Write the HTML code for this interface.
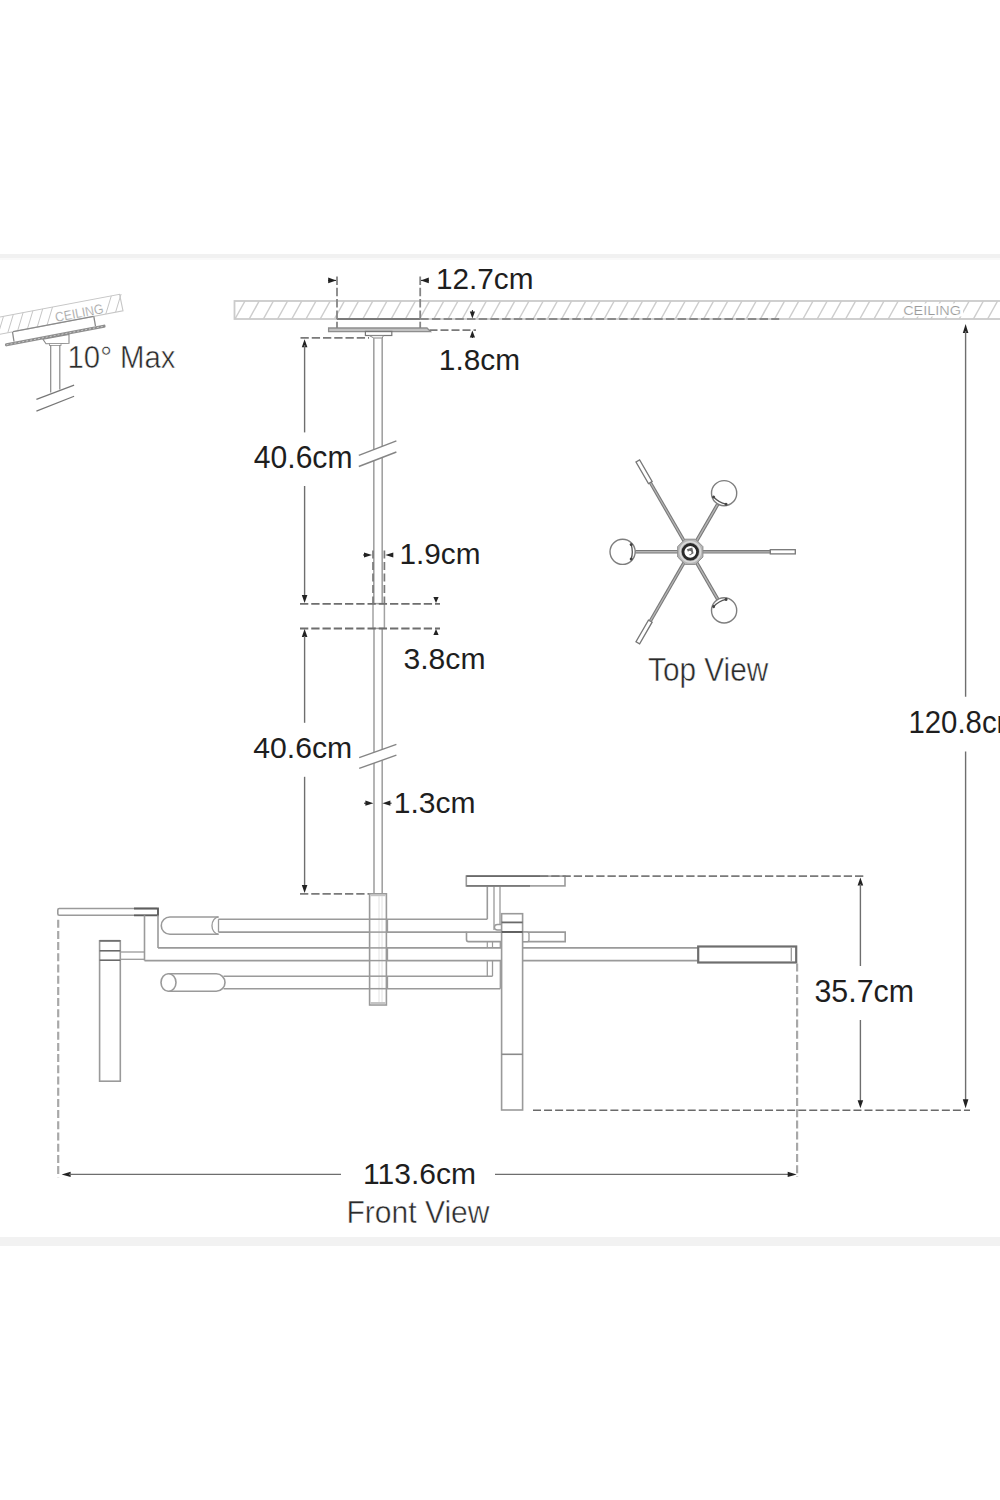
<!DOCTYPE html><html><head><meta charset="utf-8"><style>html,body{margin:0;padding:0;background:#fff;}svg{display:block;}text{font-family:"Liberation Sans",sans-serif;}</style></head><body>
<svg width="1000" height="1500" viewBox="0 0 1000 1500">
<rect x="0" y="0" width="1000" height="1500" fill="#fff"/>
<rect x="0" y="254" width="1000" height="4" fill="#f1f1f1"/><rect x="0" y="258" width="1000" height="2" fill="#f9f9f9"/>
<rect x="0" y="1237" width="1000" height="9" fill="#f2f2f2"/>
<g stroke="#cdcdcd" stroke-width="1.5">
<line x1="235.0" y1="319" x2="245.0" y2="301"/>
<line x1="249.2" y1="319" x2="259.2" y2="301"/>
<line x1="263.4" y1="319" x2="273.4" y2="301"/>
<line x1="277.6" y1="319" x2="287.6" y2="301"/>
<line x1="291.8" y1="319" x2="301.8" y2="301"/>
<line x1="306.0" y1="319" x2="316.0" y2="301"/>
<line x1="320.2" y1="319" x2="330.2" y2="301"/>
<line x1="334.4" y1="319" x2="344.4" y2="301"/>
<line x1="348.6" y1="319" x2="358.6" y2="301"/>
<line x1="362.8" y1="319" x2="372.8" y2="301"/>
<line x1="377.0" y1="319" x2="387.0" y2="301"/>
<line x1="391.2" y1="319" x2="401.2" y2="301"/>
<line x1="405.4" y1="319" x2="415.4" y2="301"/>
<line x1="419.6" y1="319" x2="429.6" y2="301"/>
<line x1="433.8" y1="319" x2="443.8" y2="301"/>
<line x1="448.0" y1="319" x2="458.0" y2="301"/>
<line x1="462.2" y1="319" x2="472.2" y2="301"/>
<line x1="476.4" y1="319" x2="486.4" y2="301"/>
<line x1="490.6" y1="319" x2="500.6" y2="301"/>
<line x1="504.8" y1="319" x2="514.8" y2="301"/>
<line x1="519.0" y1="319" x2="529.0" y2="301"/>
<line x1="533.2" y1="319" x2="543.2" y2="301"/>
<line x1="547.4" y1="319" x2="557.4" y2="301"/>
<line x1="561.6" y1="319" x2="571.6" y2="301"/>
<line x1="575.8" y1="319" x2="585.8" y2="301"/>
<line x1="590.0" y1="319" x2="600.0" y2="301"/>
<line x1="604.2" y1="319" x2="614.2" y2="301"/>
<line x1="618.4" y1="319" x2="628.4" y2="301"/>
<line x1="632.6" y1="319" x2="642.6" y2="301"/>
<line x1="646.8" y1="319" x2="656.8" y2="301"/>
<line x1="661.0" y1="319" x2="671.0" y2="301"/>
<line x1="675.2" y1="319" x2="685.2" y2="301"/>
<line x1="689.4" y1="319" x2="699.4" y2="301"/>
<line x1="703.6" y1="319" x2="713.6" y2="301"/>
<line x1="717.8" y1="319" x2="727.8" y2="301"/>
<line x1="732.0" y1="319" x2="742.0" y2="301"/>
<line x1="746.2" y1="319" x2="756.2" y2="301"/>
<line x1="760.4" y1="319" x2="770.4" y2="301"/>
<line x1="774.6" y1="319" x2="784.6" y2="301"/>
<line x1="788.8" y1="319" x2="798.8" y2="301"/>
<line x1="803.0" y1="319" x2="813.0" y2="301"/>
<line x1="817.2" y1="319" x2="827.2" y2="301"/>
<line x1="831.4" y1="319" x2="841.4" y2="301"/>
<line x1="845.6" y1="319" x2="855.6" y2="301"/>
<line x1="859.8" y1="319" x2="869.8" y2="301"/>
<line x1="874.0" y1="319" x2="884.0" y2="301"/>
<line x1="888.2" y1="319" x2="898.2" y2="301"/>
<line x1="902.4" y1="319" x2="912.4" y2="301"/>
<line x1="916.6" y1="319" x2="926.6" y2="301"/>
<line x1="930.8" y1="319" x2="940.8" y2="301"/>
<line x1="945.0" y1="319" x2="955.0" y2="301"/>
<line x1="959.2" y1="319" x2="969.2" y2="301"/>
<line x1="973.4" y1="319" x2="983.4" y2="301"/>
<line x1="987.6" y1="319" x2="997.6" y2="301"/>
<line x1="1001.8" y1="319" x2="1011.8" y2="301"/>
</g>
<rect x="234.5" y="301" width="800" height="18" fill="none" stroke="#cbcbcb" stroke-width="1.8"/>
<rect x="901" y="303.5" width="62" height="13" fill="#fff"/>
<text x="903.2" y="314.6" font-size="13.5" fill="#9a9a9a" textLength="57.8" lengthAdjust="spacingAndGlyphs" stroke="#fff" stroke-width="0.2">CEILING</text>
<line x1="336.8" y1="319" x2="420.2" y2="319" stroke="#7a7a7a" stroke-width="1.8" />
<line x1="420.2" y1="319" x2="779.2" y2="319" stroke="#8a8a8a" stroke-width="1.8" stroke-dasharray="8.5 3.2"/>
<polygon points="328.6,328 427,328 430.5,331.6 328.6,331.6" fill="#c2c2c2" stroke="#8e8e8e" stroke-width="1.3"/>
<rect x="365.4" y="331.4" width="26.40" height="4.10" stroke="#777" stroke-width="1.2" fill="none" />
<polygon points="369.2,335.5 383.5,335.5 382.2,338 373.8,338" fill="none" stroke="#888" stroke-width="1"/>
<line x1="337" y1="276.5" x2="337" y2="328" stroke="#858585" stroke-width="1.8" stroke-dasharray="8.5 2.8"/>
<line x1="420.2" y1="276.5" x2="420.2" y2="328" stroke="#858585" stroke-width="1.8" stroke-dasharray="8.5 2.8"/>
<polygon points="336.2,280.4 328.2,277.6 328.2,283.2" fill="#222"/>
<polygon points="420.8,280.4 428.8,277.6 428.8,283.2" fill="#222"/>
<line x1="328" y1="280.4" x2="336" y2="280.4" stroke="#222" stroke-width="1" />
<line x1="421" y1="280.4" x2="429" y2="280.4" stroke="#222" stroke-width="1" />
<text x="436" y="289.3" font-size="29" fill="#1e1e1e" textLength="97.5" lengthAdjust="spacingAndGlyphs" >12.7cm</text>
<line x1="429.5" y1="330.2" x2="476" y2="330.2" stroke="#7a7a7a" stroke-width="1.8" stroke-dasharray="8 3"/>
<polygon points="472.4,318.5 469.8,311.5 475.0,311.5" fill="#222"/>
<line x1="472.4" y1="310" x2="472.4" y2="312" stroke="#222" stroke-width="1" />
<polygon points="472.4,330.6 469.8,337.6 475.0,337.6" fill="#222"/>
<line x1="472.4" y1="337" x2="472.4" y2="338" stroke="#222" stroke-width="1" />
<text x="438.8" y="369.9" font-size="29.5" fill="#1e1e1e" textLength="81.2" lengthAdjust="spacingAndGlyphs" >1.8cm</text>
<line x1="373.8" y1="338" x2="373.8" y2="449.6" stroke="#a2a2a2" stroke-width="1.6" />
<line x1="373.8" y1="460.7" x2="373.8" y2="603.6" stroke="#a2a2a2" stroke-width="1.6" />
<line x1="382.2" y1="338" x2="382.2" y2="446.3" stroke="#a2a2a2" stroke-width="1.6" />
<line x1="382.2" y1="457.5" x2="382.2" y2="603.6" stroke="#a2a2a2" stroke-width="1.6" />
<line x1="358.8" y1="455.3" x2="396.4" y2="440.9" stroke="#858585" stroke-width="1.4" />
<line x1="358.8" y1="466.5" x2="396.4" y2="452" stroke="#858585" stroke-width="1.4" />
<rect x="373" y="603.6" width="11.40" height="24.80" stroke="#a2a2a2" stroke-width="1.5" fill="none" />
<line x1="374" y1="628.4" x2="374" y2="752.3" stroke="#a2a2a2" stroke-width="1.6" />
<line x1="374" y1="763.1" x2="374" y2="893.8" stroke="#a2a2a2" stroke-width="1.6" />
<line x1="382.2" y1="628.4" x2="382.2" y2="749.4" stroke="#a2a2a2" stroke-width="1.6" />
<line x1="382.2" y1="760.2" x2="382.2" y2="893.8" stroke="#a2a2a2" stroke-width="1.6" />
<line x1="359.2" y1="757.6" x2="396.4" y2="744.4" stroke="#858585" stroke-width="1.4" />
<line x1="359.2" y1="768.4" x2="396.4" y2="755.2" stroke="#858585" stroke-width="1.4" />
<line x1="300.5" y1="337.8" x2="369" y2="337.8" stroke="#7a7a7a" stroke-width="1.8" stroke-dasharray="8.3 2.95"/>
<polygon points="304.6,339.3 301.8,347.3 307.4,347.3" fill="#222"/>
<line x1="304.6" y1="345" x2="304.6" y2="432.4" stroke="#6e6e6e" stroke-width="1.4" />
<line x1="304.6" y1="486" x2="304.6" y2="597" stroke="#6e6e6e" stroke-width="1.4" />
<polygon points="304.6,603.0 301.8,595.0 307.4,595.0" fill="#222"/>
<text x="253.8" y="468.4" font-size="30.5" fill="#1e1e1e" textLength="98.7" lengthAdjust="spacingAndGlyphs" >40.6cm</text>
<line x1="300" y1="603.8" x2="440" y2="603.8" stroke="#6e6e6e" stroke-width="1.8" stroke-dasharray="8.3 2.95"/>
<line x1="300" y1="628.5" x2="440" y2="628.5" stroke="#6e6e6e" stroke-width="1.8" stroke-dasharray="8.3 2.95"/>
<polygon points="304.6,629.0 301.8,637.0 307.4,637.0" fill="#222"/>
<line x1="304.6" y1="636" x2="304.6" y2="722.8" stroke="#6e6e6e" stroke-width="1.4" />
<line x1="304.6" y1="776.8" x2="304.6" y2="887" stroke="#6e6e6e" stroke-width="1.4" />
<polygon points="304.6,893.0 301.8,885.0 307.4,885.0" fill="#222"/>
<text x="253.2" y="758" font-size="29.5" fill="#1e1e1e" textLength="99.0" lengthAdjust="spacingAndGlyphs" >40.6cm</text>
<line x1="300" y1="893.8" x2="370" y2="893.8" stroke="#7a7a7a" stroke-width="1.8" stroke-dasharray="8.3 2.95"/>
<polygon points="436.0,603.0 433.4,597.0 438.6,597.0" fill="#222"/>
<polygon points="436.0,629.0 433.4,635.0 438.6,635.0" fill="#222"/>
<text x="403.5" y="669.3" font-size="29" fill="#1e1e1e" textLength="82.0" lengthAdjust="spacingAndGlyphs" >3.8cm</text>
<line x1="373" y1="550.5" x2="373" y2="603.8" stroke="#7a7a7a" stroke-width="1.7" stroke-dasharray="8 3.5"/>
<line x1="384.4" y1="550.5" x2="384.4" y2="603.8" stroke="#7a7a7a" stroke-width="1.7" stroke-dasharray="8 3.5"/>
<polygon points="372.0,555.0 364.0,552.4 364.0,557.6" fill="#222"/>
<line x1="363" y1="555" x2="365" y2="555" stroke="#222" stroke-width="1" />
<polygon points="385.3,555.0 393.3,552.4 393.3,557.6" fill="#222"/>
<line x1="391" y1="555" x2="393" y2="555" stroke="#222" stroke-width="1" />
<text x="399.5" y="564" font-size="29" fill="#1e1e1e" textLength="81.0" lengthAdjust="spacingAndGlyphs" >1.9cm</text>
<polygon points="373.4,803.2 365.4,800.6 365.4,805.8" fill="#222"/>
<line x1="364" y1="803.2" x2="366" y2="803.2" stroke="#222" stroke-width="1" />
<polygon points="382.4,803.2 390.4,800.6 390.4,805.8" fill="#222"/>
<line x1="390" y1="803.2" x2="391.6" y2="803.2" stroke="#222" stroke-width="1" />
<text x="393.8" y="812.8" font-size="29.5" fill="#1e1e1e" textLength="81.8" lengthAdjust="spacingAndGlyphs" >1.3cm</text>
<rect x="369.6" y="893.8" width="16.80" height="111.20" stroke="#9a9a9a" stroke-width="1.6" fill="#fff" />
<rect x="370.4" y="894.6" width="15.2" height="1.6" fill="#c4c4c4"/>
<rect x="370.4" y="1002" width="15.2" height="2.2" fill="#c4c4c4"/>
<line x1="379" y1="896" x2="379" y2="1002" stroke="#e2e2e2" stroke-width="1" />
<line x1="382" y1="896" x2="382" y2="1002" stroke="#e2e2e2" stroke-width="1" />
<line x1="387.5" y1="919.2" x2="387.5" y2="932.1" stroke="#9a9a9a" stroke-width="1.3" />
<line x1="369.6" y1="919.2" x2="386.4" y2="919.2" stroke="#9a9a9a" stroke-width="1.5" />
<line x1="369.6" y1="932.1" x2="386.4" y2="932.1" stroke="#9a9a9a" stroke-width="1.5" />
<line x1="387.5" y1="947.9" x2="387.5" y2="960.6" stroke="#9a9a9a" stroke-width="1.3" />
<line x1="369.6" y1="947.9" x2="386.4" y2="947.9" stroke="#9a9a9a" stroke-width="1.5" />
<line x1="369.6" y1="960.6" x2="386.4" y2="960.6" stroke="#9a9a9a" stroke-width="1.5" />
<line x1="387.5" y1="976.2" x2="387.5" y2="988.7" stroke="#9a9a9a" stroke-width="1.3" />
<line x1="369.6" y1="976.2" x2="386.4" y2="976.2" stroke="#9a9a9a" stroke-width="1.5" />
<line x1="369.6" y1="988.7" x2="386.4" y2="988.7" stroke="#9a9a9a" stroke-width="1.5" />
<rect x="57.8" y="908.5" width="100.20" height="6.80" stroke="#9a9a9a" stroke-width="1.6" fill="#fff" rx="1.5"/>
<path d="M134,908.5 H158 V915.3 H134" fill="none" stroke="#5e5e5e" stroke-width="1.8"/>
<line x1="144.5" y1="915.3" x2="144.5" y2="960.6" stroke="#9a9a9a" stroke-width="1.6" />
<line x1="158" y1="915.3" x2="158" y2="947.9" stroke="#9a9a9a" stroke-width="1.6" />
<line x1="158" y1="947.9" x2="369.6" y2="947.9" stroke="#9a9a9a" stroke-width="1.6" />
<line x1="144.5" y1="960.6" x2="369.6" y2="960.6" stroke="#9a9a9a" stroke-width="1.6" />
<rect x="99.6" y="940.8" width="20.70" height="140.40" stroke="#9a9a9a" stroke-width="1.6" fill="#fff" />
<line x1="99.6" y1="940.8" x2="120.3" y2="940.8" stroke="#707070" stroke-width="1.8" />
<line x1="99.6" y1="950.8" x2="120.3" y2="950.8" stroke="#6a6a6a" stroke-width="1.6" />
<line x1="99.6" y1="960.2" x2="120.3" y2="960.2" stroke="#6a6a6a" stroke-width="1.6" />
<line x1="120.3" y1="952" x2="144.5" y2="952" stroke="#9a9a9a" stroke-width="1.3" />
<line x1="120.3" y1="959.3" x2="144.5" y2="959.3" stroke="#9a9a9a" stroke-width="1.3" />
<path d="M169.9,917 H218.5 M218.5,934.25 H169.9 A8.6,8.6 0 0 1 169.9,917" fill="#fff" stroke="#9a9a9a" stroke-width="1.6"/>
<path d="M218.5,917 A6.5,8.6 0 0 0 218.5,934.25" fill="none" stroke="#9a9a9a" stroke-width="1.3"/>
<line x1="218.5" y1="919.2" x2="218.5" y2="932.1" stroke="#9a9a9a" stroke-width="1.3" />
<line x1="218.5" y1="919.2" x2="369.6" y2="919.2" stroke="#9a9a9a" stroke-width="1.6" />
<line x1="218.5" y1="932.1" x2="369.6" y2="932.1" stroke="#9a9a9a" stroke-width="1.6" />
<path d="M168.5,973.75 H216.25 A8.75,8.75 0 0 1 216.25,991.25 H168.5 Z" fill="#fff" stroke="#9a9a9a" stroke-width="1.6"/>
<ellipse cx="168.5" cy="982.5" rx="7.5" ry="8.75" fill="#fff" stroke="#9a9a9a" stroke-width="1.6"/>
<line x1="223.5" y1="976.2" x2="369.6" y2="976.2" stroke="#9a9a9a" stroke-width="1.6" />
<line x1="223.5" y1="988.7" x2="369.6" y2="988.7" stroke="#9a9a9a" stroke-width="1.6" />
<line x1="386.4" y1="919.2" x2="487.3" y2="919.2" stroke="#9a9a9a" stroke-width="1.6" />
<line x1="487.3" y1="886" x2="487.3" y2="919.2" stroke="#9a9a9a" stroke-width="1.6" />
<line x1="386.4" y1="932.1" x2="466.5" y2="932.1" stroke="#9a9a9a" stroke-width="1.6" />
<line x1="386.4" y1="947.9" x2="501.6" y2="947.9" stroke="#9a9a9a" stroke-width="1.6" />
<line x1="386.4" y1="960.6" x2="501.6" y2="960.6" stroke="#9a9a9a" stroke-width="1.6" />
<line x1="522.6" y1="947.9" x2="698.2" y2="947.9" stroke="#9a9a9a" stroke-width="1.6" />
<line x1="522.6" y1="960.6" x2="698.2" y2="960.6" stroke="#9a9a9a" stroke-width="1.6" />
<line x1="386.4" y1="976.2" x2="492.5" y2="976.2" stroke="#9a9a9a" stroke-width="1.6" />
<line x1="386.4" y1="988.7" x2="500.3" y2="988.7" stroke="#9a9a9a" stroke-width="1.6" />
<line x1="487.3" y1="960.6" x2="487.3" y2="976.2" stroke="#9a9a9a" stroke-width="1.3" />
<line x1="492.5" y1="960.6" x2="492.5" y2="976.2" stroke="#9a9a9a" stroke-width="1.3" />
<line x1="500.3" y1="960.6" x2="500.3" y2="988.7" stroke="#9a9a9a" stroke-width="1.3" />
<line x1="500.3" y1="941.8" x2="500.3" y2="947.9" stroke="#9a9a9a" stroke-width="1.3" />
<line x1="494" y1="886" x2="494" y2="930" stroke="#9a9a9a" stroke-width="1.3" />
<line x1="500" y1="886" x2="500" y2="924.5" stroke="#9a9a9a" stroke-width="1.3" />
<path d="M501.6,924.5 H497.5 Q494.5,924.5 494.5,927.2 Q494.5,930 497.5,930 H501.6" fill="#fff" stroke="#9a9a9a" stroke-width="1.3"/>
<line x1="487.3" y1="941.8" x2="487.3" y2="947.9" stroke="#9a9a9a" stroke-width="1.2" />
<line x1="492.5" y1="941.8" x2="492.5" y2="947.9" stroke="#9a9a9a" stroke-width="1.2" />
<rect x="466.3" y="876.1" width="98.70" height="9.80" stroke="#9a9a9a" stroke-width="1.6" fill="#fff" />
<line x1="466.3" y1="876.1" x2="540" y2="876.1" stroke="#6a6a6a" stroke-width="1.8" />
<line x1="466.3" y1="885.9" x2="530" y2="885.9" stroke="#7a7a7a" stroke-width="1.6" />
<path d="M468.5,932.1 H565.2 V941.6 H468.5 Q466.5,941.6 466.5,939.5 V932.1 Z" fill="#fff" stroke="#9a9a9a" stroke-width="1.6"/>
<path d="M522.6,932.1 H527 Q529,932.1 529,934 V939.7 Q529,941.6 527,941.6 H522.6" fill="#fff" stroke="#9a9a9a" stroke-width="1.3"/>
<rect x="501.6" y="913.7" width="21.00" height="196.30" stroke="#9a9a9a" stroke-width="1.6" fill="#fff" />
<line x1="501.6" y1="922.4" x2="522.6" y2="922.4" stroke="#6a6a6a" stroke-width="1.8" />
<line x1="501.6" y1="932" x2="522.6" y2="932" stroke="#5a5a5a" stroke-width="1.9" />
<line x1="501.6" y1="1054.3" x2="522.6" y2="1054.3" stroke="#8a8a8a" stroke-width="1.6" />
<rect x="698.2" y="946.5" width="98.00" height="16.00" stroke="#6e6e6e" stroke-width="2.2" fill="#fff" />
<line x1="791.3" y1="947.5" x2="791.3" y2="961.5" stroke="#9a9a9a" stroke-width="1.3" />
<line x1="540" y1="876.1" x2="865" y2="876.1" stroke="#7a7a7a" stroke-width="1.8" stroke-dasharray="8.3 2.95"/>
<polygon points="860.4,877.6 857.6,885.6 863.2,885.6" fill="#222"/>
<line x1="860.4" y1="884" x2="860.4" y2="966" stroke="#6e6e6e" stroke-width="1.4" />
<line x1="860.4" y1="1020" x2="860.4" y2="1102" stroke="#6e6e6e" stroke-width="1.4" />
<polygon points="860.4,1108.2 857.6,1100.2 863.2,1100.2" fill="#222"/>
<text x="814.5" y="1002" font-size="31" fill="#1e1e1e" textLength="99.5" lengthAdjust="spacingAndGlyphs" >35.7cm</text>
<line x1="533" y1="1110.2" x2="970" y2="1110.2" stroke="#6a6a6a" stroke-width="1.6" stroke-dasharray="8 3.05"/>
<polygon points="965.6,324.0 962.8,333.0 968.4,333.0" fill="#222"/>
<line x1="965.6" y1="331" x2="965.6" y2="696.8" stroke="#6e6e6e" stroke-width="1.4" />
<line x1="965.6" y1="751.4" x2="965.6" y2="1102" stroke="#6e6e6e" stroke-width="1.4" />
<polygon points="965.6,1108.2 962.8,1099.2 968.4,1099.2" fill="#222"/>
<text x="908.5" y="732.8" font-size="31" fill="#1e1e1e" textLength="112.5" lengthAdjust="spacingAndGlyphs" >120.8cm</text>
<line x1="58.2" y1="919.7" x2="58.2" y2="1177.6" stroke="#a8a8a8" stroke-width="2.2" stroke-dasharray="8 3.2"/>
<line x1="797.1" y1="963.6" x2="797.1" y2="1177" stroke="#a8a8a8" stroke-width="2.2" stroke-dasharray="8 3.2"/>
<polygon points="61.6,1174.4 70.6,1171.8 70.6,1177.0" fill="#222"/>
<line x1="69" y1="1174.4" x2="341" y2="1174.4" stroke="#6e6e6e" stroke-width="1.4" />
<line x1="495" y1="1174.4" x2="789" y2="1174.4" stroke="#6e6e6e" stroke-width="1.4" />
<polygon points="796.7,1174.4 787.7,1171.8 787.7,1177.0" fill="#222"/>
<text x="363" y="1183.6" font-size="29.5" fill="#1e1e1e" textLength="113.0" lengthAdjust="spacingAndGlyphs" >113.6cm</text>
<text x="346.5" y="1223.3" font-size="32" fill="#2a2a2a" textLength="143.0" lengthAdjust="spacingAndGlyphs" stroke="#fff" stroke-width="0.5">Front View</text>
<line x1="702.3" y1="551.8" x2="770.3" y2="551.8" stroke="#7a7a7a" stroke-width="3.4" />
<line x1="702.3" y1="551.8" x2="770.3" y2="551.8" stroke="#b5b5b5" stroke-width="1.2" />
<g transform="translate(690.30,551.80) rotate(0)"><rect x="80" y="-2.1" width="25" height="4.2" fill="#fff" stroke="#777" stroke-width="1.3"/></g>
<line x1="696.3" y1="541.4" x2="717.8" y2="504.2" stroke="#777" stroke-width="3.6" />
<line x1="696.3" y1="541.4" x2="717.8" y2="504.2" stroke="#b5b5b5" stroke-width="1.4" />
<circle cx="724.1" cy="493.2" r="12.6" fill="#fff" stroke="#7e7e7e" stroke-width="1.4"/>
<g transform="translate(724.15,493.17) rotate(-60)"><path d="M-8.6,-7.2 Q-10.8,0 -8.6,7.2" fill="none" stroke="#555" stroke-width="1.3"/><circle cx="-8.6" cy="-7.2" r="1.5" fill="#444"/><circle cx="-8.6" cy="7.2" r="1.5" fill="#444"/></g>
<line x1="684.3" y1="541.4" x2="650.3" y2="482.5" stroke="#7a7a7a" stroke-width="3.4" />
<line x1="684.3" y1="541.4" x2="650.3" y2="482.5" stroke="#b5b5b5" stroke-width="1.2" />
<g transform="translate(690.30,551.80) rotate(-120)"><rect x="80" y="-2.1" width="25" height="4.2" fill="#fff" stroke="#777" stroke-width="1.3"/></g>
<line x1="678.3" y1="551.8" x2="635.3" y2="551.8" stroke="#777" stroke-width="3.6" />
<line x1="678.3" y1="551.8" x2="635.3" y2="551.8" stroke="#b5b5b5" stroke-width="1.4" />
<circle cx="622.6" cy="551.8" r="12.6" fill="#fff" stroke="#7e7e7e" stroke-width="1.4"/>
<g transform="translate(622.60,551.80) rotate(-180)"><path d="M-8.6,-7.2 Q-10.8,0 -8.6,7.2" fill="none" stroke="#555" stroke-width="1.3"/><circle cx="-8.6" cy="-7.2" r="1.5" fill="#444"/><circle cx="-8.6" cy="7.2" r="1.5" fill="#444"/></g>
<line x1="684.3" y1="562.2" x2="650.3" y2="621.1" stroke="#7a7a7a" stroke-width="3.4" />
<line x1="684.3" y1="562.2" x2="650.3" y2="621.1" stroke="#b5b5b5" stroke-width="1.2" />
<g transform="translate(690.30,551.80) rotate(-240)"><rect x="80" y="-2.1" width="25" height="4.2" fill="#fff" stroke="#777" stroke-width="1.3"/></g>
<line x1="696.3" y1="562.2" x2="717.8" y2="599.4" stroke="#777" stroke-width="3.6" />
<line x1="696.3" y1="562.2" x2="717.8" y2="599.4" stroke="#b5b5b5" stroke-width="1.4" />
<circle cx="724.1" cy="610.4" r="12.6" fill="#fff" stroke="#7e7e7e" stroke-width="1.4"/>
<g transform="translate(724.15,610.43) rotate(-300)"><path d="M-8.6,-7.2 Q-10.8,0 -8.6,7.2" fill="none" stroke="#555" stroke-width="1.3"/><circle cx="-8.6" cy="-7.2" r="1.5" fill="#444"/><circle cx="-8.6" cy="7.2" r="1.5" fill="#444"/></g>
<polygon points="685.0999999999999,539.1999999999999 695.5,539.1999999999999 702.9,546.5999999999999 702.9,557.0 695.5,564.4 685.0999999999999,564.4 677.6999999999999,557.0 677.6999999999999,546.5999999999999" fill="#b8b8b8" stroke="#8a8a8a" stroke-width="1" stroke-linejoin="round"/>
<circle cx="690.3" cy="551.8" r="10.2" fill="none" stroke="#dcdcdc" stroke-width="1.4"/>
<circle cx="690.3" cy="551.8" r="7.3" fill="#fff" stroke="#2a2a2a" stroke-width="2.8"/>
<path d="M686.8,549.3 L692.3,547.5999999999999 L693.5,553.3 L689.8,555.5999999999999 Z" fill="#6a6a6a"/>
<circle cx="689.6999999999999" cy="552.5999999999999" r="1.8" fill="#fff"/>
<text x="648" y="681.1" font-size="33" fill="#2a2a2a" textLength="120.2" lengthAdjust="spacingAndGlyphs" stroke="#fff" stroke-width="0.5">Top View</text>
<g stroke="#c6c6c6" stroke-width="1">
<line x1="-2.0" y1="334.6" x2="3.5" y2="316.3"/>
<line x1="7.8" y1="332.7" x2="13.3" y2="314.5"/>
<line x1="17.6" y1="330.9" x2="23.1" y2="312.6"/>
<line x1="27.4" y1="329.0" x2="32.9" y2="310.7"/>
<line x1="37.2" y1="327.1" x2="42.7" y2="308.9"/>
<line x1="47.0" y1="325.3" x2="52.5" y2="307.0"/>
<line x1="105.8" y1="314.1" x2="111.3" y2="295.9"/>
<line x1="115.6" y1="312.2" x2="121.1" y2="294.0"/>
</g>
<polyline points="-2,317.4 119.6,294.3 123,310.8 -2,334.6" fill="none" stroke="#c6c6c6" stroke-width="1.1"/>
<text transform="translate(56,322) rotate(-10.5)" font-size="13.5" fill="#9e9e9e" stroke="#fff" stroke-width="0.2" textLength="49" lengthAdjust="spacingAndGlyphs">CEILING</text>
<polyline points="12.5,332.0 14,341.5" fill="none" stroke="#8a8a8a" stroke-width="1.3"/>
<polyline points="93.8,316.4 95.5,326.1" fill="none" stroke="#8a8a8a" stroke-width="1.3"/>
<line x1="13" y1="331.7" x2="93.6" y2="316.4" stroke="#8a8a8a" stroke-width="1.2"/>
<line x1="6.5" y1="344.8" x2="104" y2="326.2" stroke="#8e8e8e" stroke-width="3.2" stroke-linecap="round"/>
<line x1="6.5" y1="344.8" x2="104" y2="326.2" stroke="#c8c8c8" stroke-width="1" stroke-dasharray="2 2"/>
<polygon points="43,339.3 69,334.4 69,343.2 46,343.8" fill="#fff" stroke="#8a8a8a" stroke-width="1.1"/>
<rect x="49.5" y="343.5" width="11.5" height="2" fill="#fff" stroke="#999" stroke-width="0.9"/>
<line x1="50.7" y1="345" x2="50.7" y2="392.5" stroke="#8a8a8a" stroke-width="1.2"/>
<line x1="59.8" y1="345" x2="59.8" y2="389.5" stroke="#8a8a8a" stroke-width="1.2"/>
<line x1="36.4" y1="399.4" x2="74.1" y2="385.1" stroke="#777" stroke-width="1.2"/>
<line x1="36.4" y1="411.1" x2="74.1" y2="396.2" stroke="#777" stroke-width="1.2"/>
<text x="67.5" y="367.8" font-size="31.5" fill="#2a2a2a" textLength="108.0" lengthAdjust="spacingAndGlyphs" stroke="#fff" stroke-width="0.5">10° Max</text>
</svg></body></html>
